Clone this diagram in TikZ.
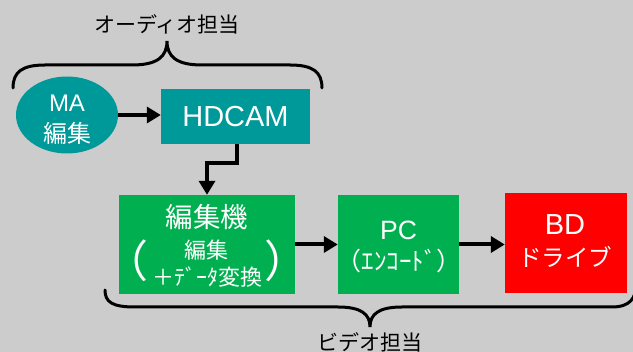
\documentclass[tikz,border=0pt]{standalone}
\usepackage{fontspec}
\setmainfont{Liberation Sans}
\newfontfamily\jp{Noto Sans CJK JP}
\usetikzlibrary{arrows.meta,shapes.geometric}
\definecolor{bg}{HTML}{CCCCCC}
\definecolor{teal}{HTML}{009999}
\definecolor{grn}{HTML}{00B050}
\definecolor{red}{HTML}{FF0000}
\tikzset{
  box/.style={draw=none,inner sep=0pt},
  wt/.style={inner sep=0pt,text=white},
  conn/.style={line width=4pt,-{Triangle[length=14pt,width=16pt]}},
  brace/.style={line width=3pt,line cap=round},
  lbl/.style={inner sep=0pt,font=\jp\fontsize{21}{22}\selectfont,text=black},
}
\begin{document}
\begin{tikzpicture}[x=1pt,y=-1pt]
\fill[bg] (0,0) rectangle (633,352);
\useasboundingbox (0,0) rectangle (633,352);
\clip (0,0) rectangle (633,352);
% shapes
\node[box,ellipse,fill=teal,minimum width=102pt,minimum height=77pt] (ma) at (67,115) {};
\node[box,fill=teal,minimum width=149pt,minimum height=55pt] (hd) at (235.5,116.5) {};
\node[box,fill=grn,minimum width=176pt,minimum height=99pt] (ed) at (207,244.5) {};
\node[box,fill=grn,minimum width=121pt,minimum height=99pt] (pc) at (398.5,244.5) {};
\node[box,fill=red,minimum width=122pt,minimum height=100pt] (bd) at (566,243) {};
% texts
\node[wt,font=\fontsize{24}{26}\selectfont] (mat) at (67,103) {MA};
\node[wt,font=\jp\fontsize{24}{26}\selectfont] (mat2) at (67,133) {編集};
\node[wt,font=\fontsize{29}{30}\selectfont] (hdt) at (235.5,117) {HDCAM};
\node[wt,font=\jp\fontsize{27.5}{28}\selectfont] (edt) at (207,217) {編集機};
\node[wt,font=\jp\fontsize{22}{24}\selectfont] (eds) at (206,250) {編集};
\node[wt,font=\jp\fontsize{22}{24}\selectfont] (eds2) at (207.5,277) {＋ﾃﾞｰﾀ変換};
\node[wt,font=\jp\fontsize{44}{44}\selectfont] (lp) at (126,261) {（};
\node[wt,font=\jp\fontsize{44}{44}\selectfont] (rp) at (286,261) {）};
\node[wt,font=\fontsize{26.5}{28}\selectfont] (pct) at (398.5,230) {PC};
\node[wt,font=\jp\fontsize{25}{26}\selectfont] (pct2) at (399,261) {（ｴﾝｺｰﾄﾞ）};
\node[wt,font=\fontsize{29}{30}\selectfont] (bdt) at (565,225) {BD};
\node[wt,font=\jp\fontsize{23.5}{25}\selectfont] (bdt2) at (565,257) {ドライブ};
% connectors
\draw[conn] (ma.east) -- (hd.west |- ma.east);
\draw[conn] (237,144) -- (237,163) -- (207,163) -- (ed.north);
\draw[conn] (ed.east) -- (pc.west);
\draw[conn] (pc.east) -- (bd.west |- pc.east);
% braces
\coordinate (ttip) at (167,41);
\coordinate (btip) at (370,327);
\draw[brace] (13,88) .. controls (13,72) and (22,65) .. (45,65) -- (132,65)
  .. controls (157,65) and (167,57) .. (ttip)
  .. controls (167,57) and (177,65) .. (202,65) -- (290,65)
  .. controls (313,65) and (322,72) .. (322,88);
\draw[brace] (105,290) .. controls (105,302) and (112,307) .. (135,307) -- (338,307)
  .. controls (361,307) and (370,314) .. (btip)
  .. controls (370,314) and (379,307) .. (402,307) -- (612,307)
  .. controls (630,307) and (636,298) .. (636,285);
\node[lbl] (tl) at (167,24) {オーディオ担当};
\node[lbl] (bl) at (370,342) {ビデオ担当};
\end{tikzpicture}
\end{document}
